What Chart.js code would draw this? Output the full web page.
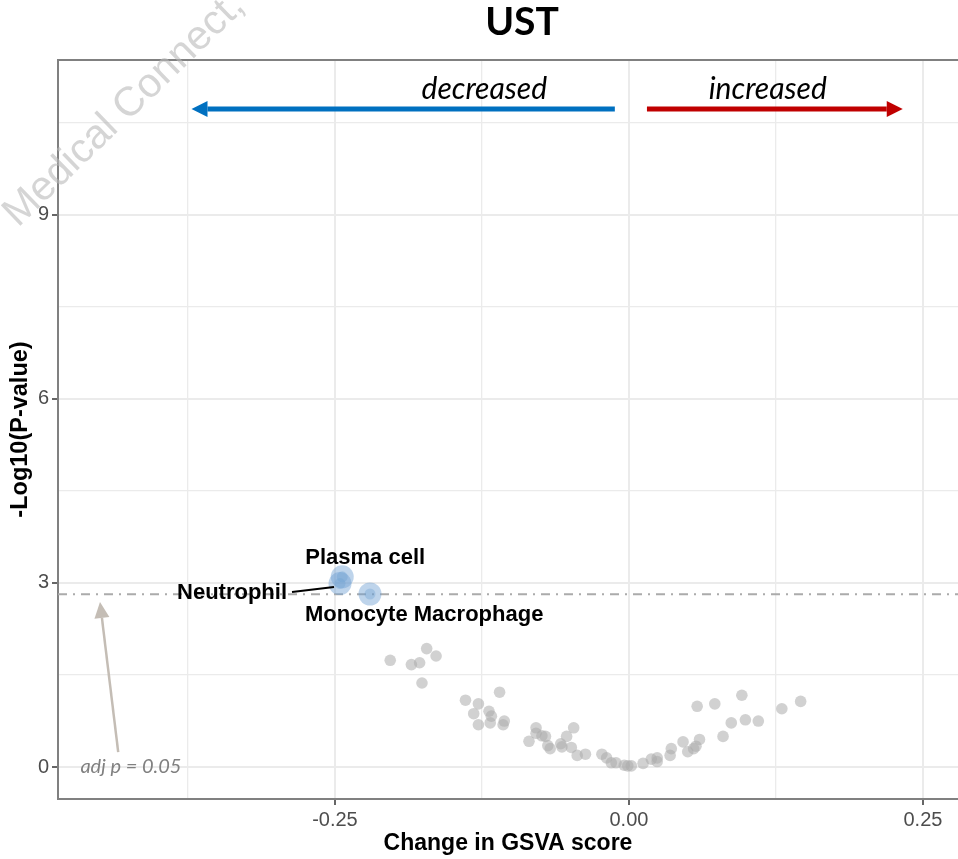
<!DOCTYPE html>
<html><head><meta charset="utf-8">
<script src="https://cdn.jsdelivr.net/npm/chart.js@4/dist/chart.umd.min.js"></script>
<style>html,body{margin:0;padding:0;background:#fff}#wrap{width:958px;height:859px;position:relative}</style>
</head><body><div id="wrap"><canvas id="c" width="958" height="859"></canvas></div>
<script>
// ---- data ----
const labelledNames = ['Plasma cell', 'Neutrophil', 'Monocyte Macrophage'];
const labelledChange = [-0.2438, -0.2457, -0.2202];
const labelledLogP = [3.10, 2.99, 2.82];
const otherChange = [-0.203,-0.185,-0.178,-0.172,-0.164,-0.176,-0.139,-0.128,-0.132,-0.128,-0.119,-0.117,-0.118,-0.110,-0.106,-0.107,-0.085,-0.079,-0.079,-0.074,-0.071,-0.069,-0.067,-0.058,-0.057,-0.053,-0.047,-0.049,-0.044,-0.037,-0.023,-0.019,-0.015,-0.011,-0.004,-0.001,0.002,0.012,0.019,0.024,0.024,0.035,0.036,0.046,0.050,0.055,0.057,0.060,0.058,0.073,0.080,0.087,0.096,0.099,0.110,0.130,0.146];
const otherLogP = [1.74,1.67,1.70,1.93,1.81,1.37,1.09,1.03,0.87,0.69,0.91,0.83,0.72,1.22,0.75,0.69,0.42,0.64,0.55,0.51,0.50,0.35,0.30,0.38,0.33,0.50,0.64,0.32,0.19,0.21,0.21,0.15,0.07,0.07,0.03,0.02,0.02,0.06,0.13,0.15,0.09,0.19,0.30,0.41,0.25,0.30,0.34,0.45,0.99,1.03,0.50,0.72,1.17,0.77,0.75,0.95,1.07];
const thresholdLogP = 2.816;
const xTickValues = [-0.375, -0.25, -0.125, 0, 0.125, 0.25];
const xTickLabels = ['', '-0.25', '', '0.00', '', '0.25'];
const yTickValues = [0, 1.5, 3, 4.5, 6, 7.5, 9, 10.5];
const yTickLabels = ['0', '', '3', '', '6', '', '9', ''];
const xRange = [-0.4855, 0.2798];
const yRange = [-0.52, 11.52];

// ---- annotation styles (positions in data units / pixel offsets) ----
const ann = {
  title: 'UST',
  decreased: { text: 'decreased', x: -0.123, from: -0.012, to: -0.372, ay: 10.72, color: '#0070C0' },
  increased: { text: 'increased', x: 0.118, from: 0.0153, to: 0.2328, ay: 10.72, color: '#C00000' },
  adj: { text: 'adj p = 0.05', x: -0.4235, y: 0, tailX: -0.4343, tailY: 0.245, tipX: -0.4498, tipY: 2.69 }
};

const SANS = "'Liberation Sans', Arial, Helvetica, sans-serif";
const CAL = "Lato, 'Open Sans', sans-serif";

function arrow(ctx, x1, y1, x2, y2, color, lw, headLen, headHalf) {
  const ang = Math.atan2(y2 - y1, x2 - x1);
  const bx = x2 - Math.cos(ang) * headLen, by = y2 - Math.sin(ang) * headLen;
  ctx.save();
  ctx.strokeStyle = color; ctx.fillStyle = color; ctx.lineWidth = lw; ctx.lineCap = 'butt';
  ctx.beginPath(); ctx.moveTo(x1, y1); ctx.lineTo(bx, by); ctx.stroke();
  ctx.beginPath();
  ctx.moveTo(x2, y2);
  ctx.lineTo(bx + Math.sin(ang) * headHalf, by - Math.cos(ang) * headHalf);
  ctx.lineTo(bx - Math.sin(ang) * headHalf, by + Math.cos(ang) * headHalf);
  ctx.closePath(); ctx.fill();
  ctx.restore();
}

const annotPlugin = {
  id: 'annot',
  afterDraw(chart) {
    const ctx = chart.ctx, xs = chart.scales.x, ys = chart.scales.y, ca = chart.chartArea;
    ctx.save();
    // top panel border
    ctx.strokeStyle = '#808080'; ctx.lineWidth = 2;
    ctx.beginPath(); ctx.moveTo(ca.left - 1, ca.top); ctx.lineTo(ca.right, ca.top); ctx.stroke();

    // title
    ctx.fillStyle = '#000'; ctx.font = "bold 39px " + CAL; ctx.textAlign = 'center'; ctx.textBaseline = 'alphabetic';
    ctx.fillText(ann.title, 522, 35);

    // direction arrows + text
    [ann.decreased, ann.increased].forEach(a => {
      const ay = ys.getPixelForValue(a.ay);
      arrow(ctx, xs.getPixelForValue(a.from), ay, xs.getPixelForValue(a.to), ay, a.color, 5, 16, 8);
      ctx.fillStyle = '#000'; ctx.font = "italic 30px " + CAL; ctx.textAlign = 'center'; ctx.textBaseline = 'alphabetic';
      ctx.fillText(a.text, xs.getPixelForValue(a.x), 99);
    });

    // point labels
    const px = i => xs.getPixelForValue(labelledChange[i]);
    const py = i => ys.getPixelForValue(labelledLogP[i]);
    ctx.fillStyle = '#000'; ctx.font = "bold 22px " + SANS; ctx.textBaseline = 'middle';
    ctx.textAlign = 'left';
    ctx.fillText(labelledNames[0], px(0) - 37, py(0) - 19);
    ctx.fillText(labelledNames[2], px(2) - 65, py(2) + 21);
    ctx.textAlign = 'right';
    ctx.fillText(labelledNames[1], px(1) - 53, py(1) + 9);
    ctx.strokeStyle = '#000'; ctx.lineWidth = 2;
    ctx.beginPath(); ctx.moveTo(px(1) - 48, py(1) + 8.5); ctx.lineTo(px(1) - 6, py(1) + 3.5); ctx.stroke();

    // adj p annotation
    const ad = ann.adj;
    arrow(ctx, xs.getPixelForValue(ad.tailX), ys.getPixelForValue(ad.tailY), xs.getPixelForValue(ad.tipX), ys.getPixelForValue(ad.tipY), '#C4BDB5', 2.5, 16, 7.5);
    ctx.fillStyle = '#808080'; ctx.font = "italic 20px " + CAL; ctx.textAlign = 'center'; ctx.textBaseline = 'alphabetic';
    ctx.fillText(ad.text, xs.getPixelForValue(ad.x), ys.getPixelForValue(ad.y) + 6);

    // watermark
    ctx.save();
    ctx.translate(18, 228); ctx.rotate(-44 * Math.PI / 180);
    ctx.fillStyle = 'rgba(185,185,185,0.6)'; ctx.font = "41px " + SANS; ctx.textAlign = 'left'; ctx.textBaseline = 'alphabetic';
    ctx.fillText('Medical Connect,', 0, 0);
    ctx.restore();

    ctx.restore();
  }
};

const toPts = (xa, ya) => xa.map((x, i) => ({ x, y: ya[i] }));

new Chart(document.getElementById('c').getContext('2d'), {
  type: 'scatter',
  data: {
    datasets: [
      { label: 'threshold', type: 'line', data: xRange.map(x => ({ x, y: thresholdLogP })), borderColor: '#ABABAB', borderWidth: 2, borderDash: [9, 6, 2, 6], pointRadius: 0, fill: false, order: 4 },
      { label: 'other', data: toPts(otherChange, otherLogP), backgroundColor: 'rgba(172,172,172,0.55)', borderWidth: 0, pointRadius: 5.8, order: 3 },
      { label: 'labelledHalo', data: toPts(labelledChange, labelledLogP), backgroundColor: 'rgba(110,160,210,0.45)', borderWidth: 0, pointRadius: 11.5, order: 2 },
      { label: 'labelledCore', data: toPts(labelledChange, labelledLogP), backgroundColor: 'rgba(110,160,210,0.35)', borderWidth: 0, pointRadius: 5.5, order: 1 }
    ]
  },
  options: {
    responsive: false, animation: false, devicePixelRatio: 1,
    layout: { autoPadding: false, padding: { top: 60, left: 0, right: 0, bottom: 0 } },
    plugins: { legend: { display: false }, tooltip: { enabled: false }, title: { display: false } },
    scales: {
      x: {
        type: 'linear', min: xRange[0], max: xRange[1],
        afterFit(s) { s.height = 60; s.paddingLeft = 0; s.paddingRight = 0; },
        afterBuildTicks(s) { s.ticks = xTickValues.map(v => ({ value: v })); },
        ticks: { autoSkip: false, maxRotation: 0, padding: 3, color: '#4D4D4D', font: { size: 20, family: SANS }, callback: (v, i) => xTickLabels[i] },
        grid: { color: '#EBEBEB', lineWidth: c => (xTickLabels[c.index] ? 2 : 1.3), tickLength: 6, tickWidth: 1.5, tickColor: c => (xTickLabels[c.index] ? '#333333' : 'rgba(0,0,0,0)') },
        border: { display: true, color: '#808080', width: 2 },
        title: { display: true, text: 'Change in GSVA score', color: '#000', font: { size: 23, weight: 'bold', family: SANS }, padding: { top: 0, bottom: 2 } }
      },
      y: {
        type: 'linear', min: yRange[0], max: yRange[1],
        afterFit(s) { s.width = 58; s.paddingTop = 0; s.paddingBottom = 0; },
        afterBuildTicks(s) { s.ticks = yTickValues.map(v => ({ value: v })); },
        ticks: { autoSkip: false, padding: 3, color: '#4D4D4D', font: { size: 20, family: SANS }, callback: (v, i) => yTickLabels[i] },
        grid: { color: '#EBEBEB', lineWidth: c => (yTickLabels[c.index] ? 2 : 1.3), tickLength: 6, tickWidth: 1.5, tickColor: c => (yTickLabels[c.index] ? '#333333' : 'rgba(0,0,0,0)') },
        border: { display: true, color: '#808080', width: 2 },
        title: { display: true, text: '-Log10(P-value)', color: '#000', font: { size: 23.5, weight: 'bold', family: SANS }, padding: { top: 6, bottom: 0 } }
      }
    }
  },
  plugins: [annotPlugin]
});
</script></body></html>
